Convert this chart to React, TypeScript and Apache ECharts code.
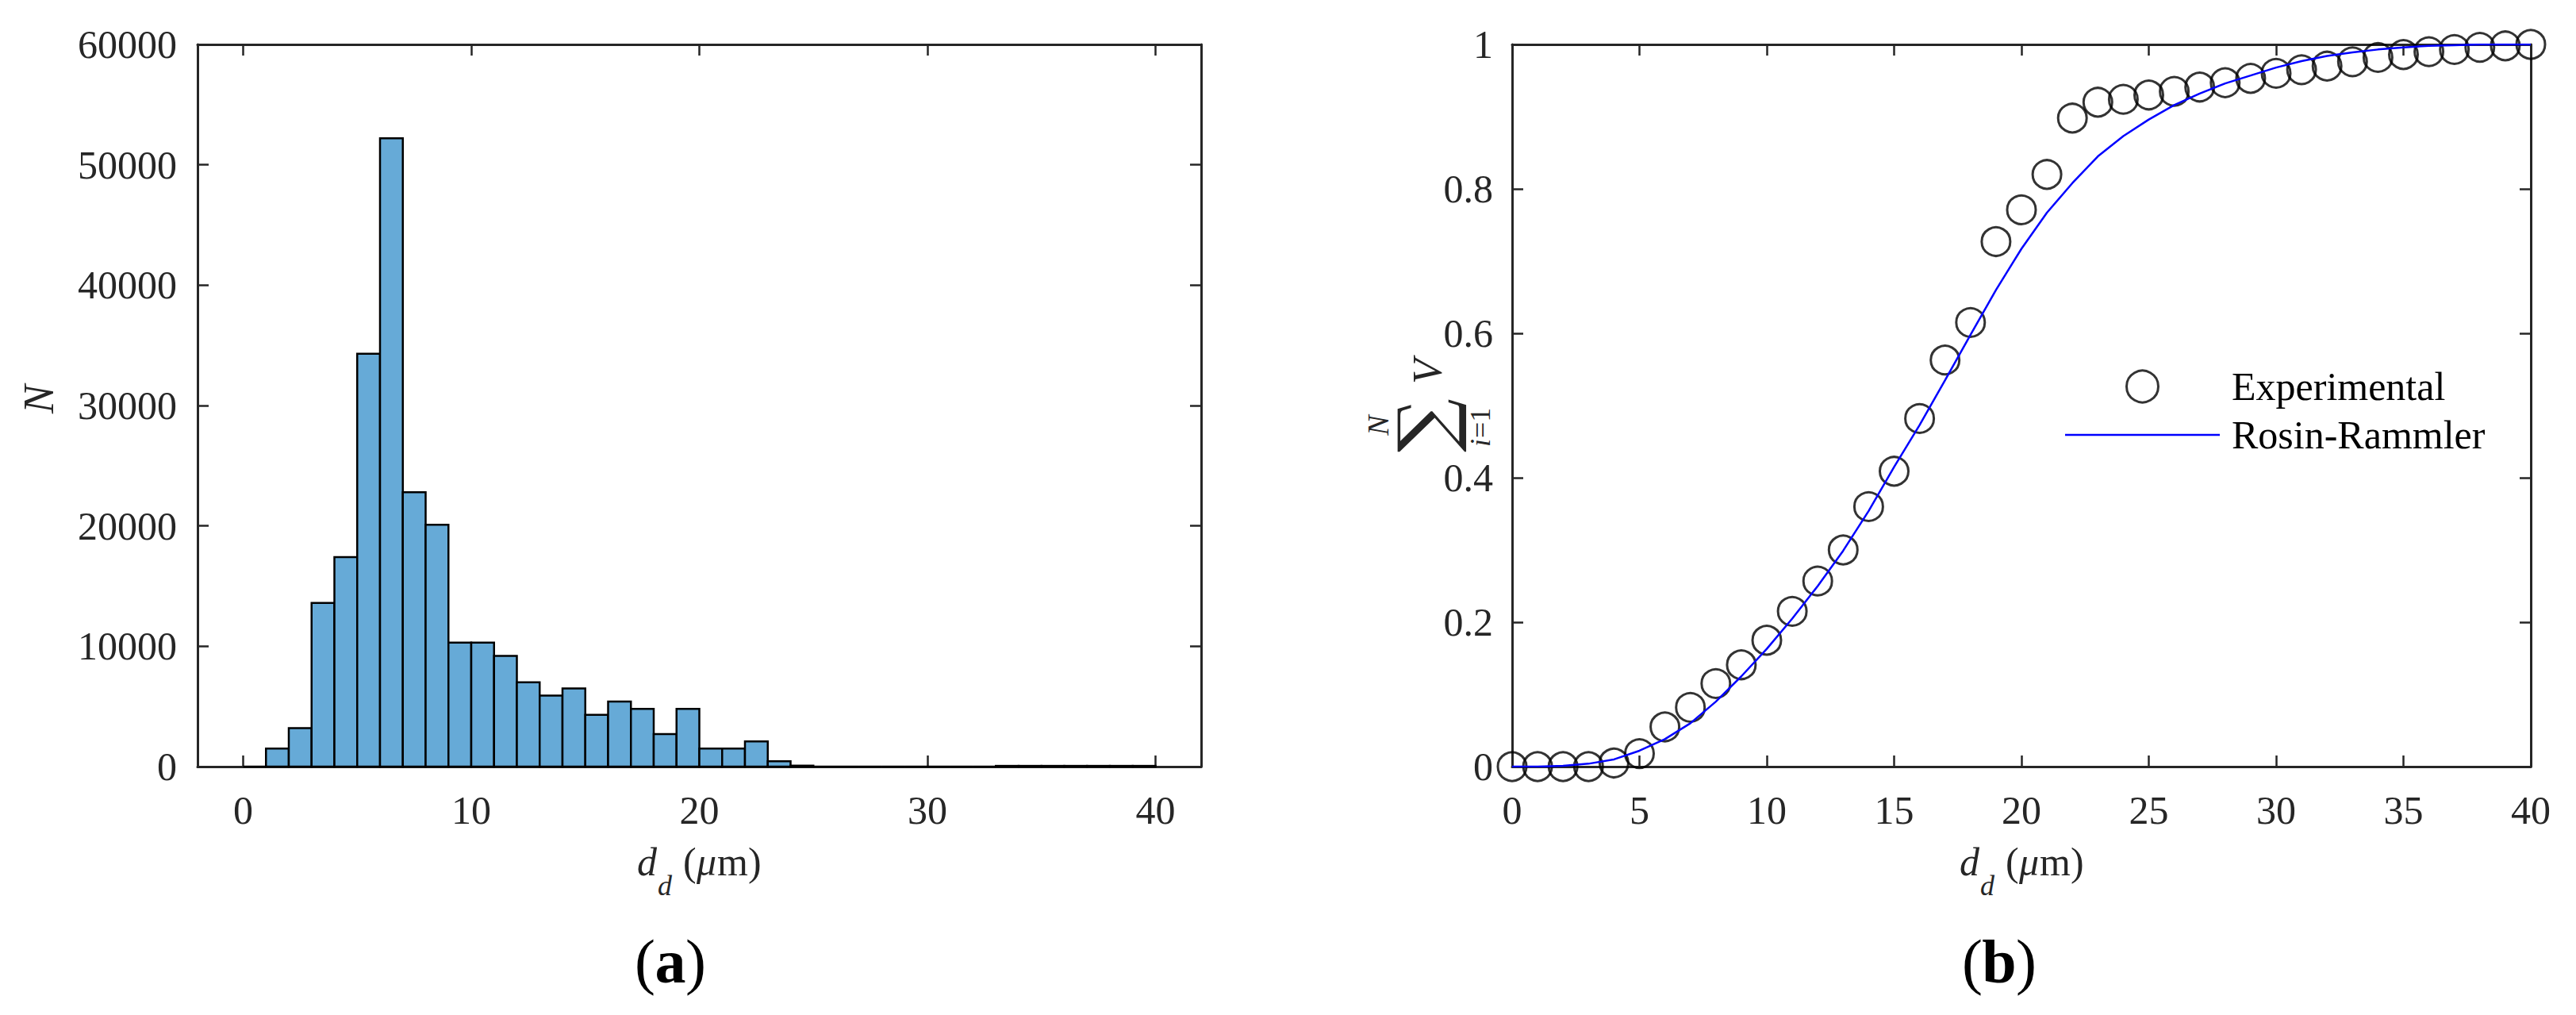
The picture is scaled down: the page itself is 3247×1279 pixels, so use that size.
import React, { useEffect, useRef } from 'react';
import * as echarts from 'echarts';

const FONT = "'Liberation Serif', 'Times New Roman', serif";
const AXIS_COLOR = '#262626';

// ---- Histogram (a) ----
const binEdges = [0, 1, 2, 3, 4, 5, 6, 7, 8, 9, 10, 11, 12, 13, 14, 15, 16, 17, 18, 19, 20,
  21, 22, 23, 24, 25, 26, 27, 28, 29, 30, 31, 32, 33, 34, 35, 36, 37, 38, 39, 40];
const binCounts = [
  0, 1500, 3200, 13600, 17400, 34300, 52200, 22800, 20100, 10300,
  10300, 9200, 7000, 5900, 6500, 4300, 5400, 4800, 2700, 4800,
  1500, 1500, 2100, 450, 80, 0, 0, 0, 0, 0,
  0, 0, 0, 60, 60, 60, 60, 60, 60, 60,
];
const histXTicks = [0, 10, 20, 30, 40];

// ---- Cumulative volume (b) ----
const dValues = [0, 1, 2, 3, 4, 5, 6, 7, 8, 9, 10, 11, 12, 13, 14, 15, 16, 17, 18, 19, 20,
  21, 22, 23, 24, 25, 26, 27, 28, 29, 30, 31, 32, 33, 34, 35, 36, 37, 38, 39, 40];
const experimental = [
  0, 0, 0, 0, 0.005, 0.018, 0.055, 0.082, 0.115, 0.141,
  0.175, 0.215, 0.257, 0.300, 0.360, 0.409, 0.482, 0.563, 0.615, 0.727,
  0.771, 0.820, 0.898, 0.920, 0.924, 0.930, 0.935, 0.941, 0.947, 0.953,
  0.960, 0.965, 0.970, 0.976, 0.982, 0.986, 0.990, 0.993, 0.996, 0.998, 1.0,
];
const rosinRammler = [
  0, 0.000, 0.001, 0.004, 0.010, 0.022, 0.038, 0.060, 0.090, 0.125,
  0.163, 0.205, 0.250, 0.299, 0.354, 0.415, 0.473, 0.535, 0.598, 0.660,
  0.717, 0.767, 0.808, 0.845, 0.873, 0.896, 0.916, 0.932, 0.946, 0.957,
  0.968, 0.977, 0.984, 0.989, 0.993, 0.996, 0.998, 0.999, 1.0, 1.0, 1.0,
];

const axisLine = { show: true, onZero: false, lineStyle: { color: AXIS_COLOR, width: 3 } };
const tickStyle = { color: AXIS_COLOR, width: 2.5 };
const labelStyle = { fontFamily: FONT, fontSize: 50, color: AXIS_COLOR, formatter: (v: number) => String(v) };

function txt(x: number, y: number, text: string, size: number, opts: any = {}) {
  const align = opts.align || 'left';
  return {
    type: 'text',
    x,
    y,
    silent: true,
    style: {
      text,
      fontFamily: opts.family || FONT,
      fontSize: size,
      fontStyle: opts.italic ? 'italic' : 'normal',
      fontWeight: opts.bold ? 'bold' : 'normal',
      fill: opts.color || '#000',
      textAlign: align,
      align,
      textVerticalAlign: 'middle',
      verticalAlign: 'middle',
    },
  };
}

function xTitle(x0: number) {
  // d_d (μm), baselines at 1103 (main) and 1128 (subscript)
  return [
    txt(x0, 1086, 'd', 50, { italic: true, color: AXIS_COLOR }),
    txt(x0 + 26, 1116, 'd', 36, { italic: true, color: AXIS_COLOR }),
    txt(x0 + 58, 1086, '(', 50, { color: AXIS_COLOR }),
    txt(x0 + 75, 1086, 'μ', 50, { italic: true, color: AXIS_COLOR }),
    txt(x0 + 101, 1086, 'm)', 50, { color: AXIS_COLOR }),
  ];
}

function caption(cx: number, letter: string) {
  const half = letter === 'a' ? 19 : 21;
  return [
    txt(cx - half, 1211, '(', 78, { align: 'right' }),
    txt(cx, 1211, letter, 78, { bold: true, align: 'center' }),
    txt(cx + half, 1211, ')', 78, { align: 'left' }),
  ];
}

const option: any = {
  animation: false,
  backgroundColor: '#ffffff',
  grid: [
    { left: 249, top: 56, width: 1265, height: 910 },
    { left: 1906, top: 56, width: 1284, height: 910 },
  ],
  xAxis: [
    {
      gridIndex: 0, type: 'value', position: 'bottom', min: -2, max: 42,
      axisLine,
      axisTick: { show: true, inside: true, length: 14, lineStyle: tickStyle, customValues: histXTicks },
      axisLabel: { ...labelStyle, margin: 30, customValues: histXTicks },
      splitLine: { show: false },
    },
    {
      gridIndex: 0, type: 'value', position: 'top', min: -2, max: 42,
      axisLine,
      axisTick: { show: true, inside: true, length: 14, lineStyle: tickStyle, customValues: histXTicks },
      axisLabel: { show: false, customValues: histXTicks },
      splitLine: { show: false },
    },
    {
      gridIndex: 1, type: 'value', position: 'bottom', min: 0, max: 40, interval: 5,
      axisLine,
      axisTick: { show: true, inside: true, length: 14, lineStyle: tickStyle },
      axisLabel: { ...labelStyle, margin: 30 },
      splitLine: { show: false },
    },
    {
      gridIndex: 1, type: 'value', position: 'top', min: 0, max: 40, interval: 5,
      axisLine,
      axisTick: { show: true, inside: true, length: 14, lineStyle: tickStyle },
      axisLabel: { show: false },
      splitLine: { show: false },
    },
  ],
  yAxis: [
    {
      gridIndex: 0, type: 'value', position: 'left', min: 0, max: 60000, interval: 10000,
      axisLine,
      axisTick: { show: true, inside: true, length: 14, lineStyle: tickStyle },
      axisLabel: { ...labelStyle, margin: 26 },
      splitLine: { show: false },
    },
    {
      gridIndex: 0, type: 'value', position: 'right', min: 0, max: 60000, interval: 10000,
      axisLine,
      axisTick: { show: true, inside: true, length: 14, lineStyle: tickStyle },
      axisLabel: { show: false },
      splitLine: { show: false },
    },
    {
      gridIndex: 1, type: 'value', position: 'left', min: 0, max: 1, interval: 0.2,
      axisLine,
      axisTick: { show: true, inside: true, length: 14, lineStyle: tickStyle },
      axisLabel: { ...labelStyle, margin: 24 },
      splitLine: { show: false },
    },
    {
      gridIndex: 1, type: 'value', position: 'right', min: 0, max: 1, interval: 0.2,
      axisLine,
      axisTick: { show: true, inside: true, length: 14, lineStyle: tickStyle },
      axisLabel: { show: false },
      splitLine: { show: false },
    },
  ],
  legend: {
    orient: 'vertical',
    left: 2598,
    top: 457,
    itemWidth: 195,
    itemHeight: 40,
    itemGap: 11,
    selectedMode: false,
    symbolKeepAspect: true,
    textStyle: { fontFamily: FONT, fontSize: 50, color: '#000', padding: [0, 0, 0, 10] },
    data: [
      {
        name: 'Experimental',
        icon: 'circle',
        itemStyle: { color: 'rgba(0,0,0,0)', borderColor: '#000', borderWidth: 3 },
      },
      {
        name: 'Rosin-Rammler',
        icon: 'path://M0,0L195,0L195,2.5L0,2.5Z',
        itemStyle: { color: '#0000FF', borderWidth: 0 },
      },
    ],
  },
  series: [
    {
      type: 'custom',
      name: 'Histogram',
      xAxisIndex: 0,
      yAxisIndex: 0,
      encode: { x: [0, 1], y: 2 },
      data: binCounts.map((c, i) => [binEdges[i], binEdges[i + 1], c]),
      renderItem: (params: any, api: any) => {
        const x0 = api.value(0);
        const x1 = api.value(1);
        const y = api.value(2);
        const pTop = api.coord([x0, y]);
        const pBot = api.coord([x1, 0]);
        return {
          type: 'rect',
          shape: { x: pTop[0], y: pTop[1], width: pBot[0] - pTop[0], height: pBot[1] - pTop[1] },
          style: { fill: '#66AAD7', stroke: '#000', lineWidth: 2.5 },
        };
      },
    },
    {
      type: 'scatter',
      name: 'Experimental',
      xAxisIndex: 2,
      yAxisIndex: 2,
      symbol: 'circle',
      symbolSize: 36,
      clip: false,
      itemStyle: { color: 'rgba(0,0,0,0)', borderColor: '#000', borderWidth: 3 },
      data: dValues.map((d, i) => [d, experimental[i]]),
    },
    {
      type: 'line',
      name: 'Rosin-Rammler',
      xAxisIndex: 2,
      yAxisIndex: 2,
      symbol: 'none',
      smooth: false,
      lineStyle: { color: '#0000FF', width: 2.5 },
      itemStyle: { color: '#0000FF' },
      data: dValues.map((d, i) => [d, rosinRammler[i]]),
    },
  ],
  graphic: [
    // y label (a): N rotated
    {
      type: 'group',
      x: 67,
      y: 519,
      rotation: Math.PI / 2,
      children: [txt(-2, -18, 'N', 54, { italic: true, color: AXIS_COLOR })],
    },
    // y label (b): sum_{i=1}^{N} V rotated
    {
      type: 'group',
      x: 1817,
      y: 570,
      rotation: Math.PI / 2,
      children: [
        txt(34, -20, '∑', 95, { align: 'center', color: AXIS_COLOR, family: "'DejaVu Serif', serif" }),
        txt(34, -80, 'N', 38, { italic: true, align: 'center', color: AXIS_COLOR }),
        txt(7, 49, 'i', 36, { italic: true, color: AXIS_COLOR }),
        txt(18, 49, '=1', 36, { color: AXIS_COLOR }),
        txt(86, -18, 'V', 52, { italic: true, color: AXIS_COLOR }),
      ],
    },
    ...xTitle(803),
    ...xTitle(2470),
    ...caption(845, 'a'),
    ...caption(2520, 'b'),
  ],
};

export default function App() {
  const ref = useRef<HTMLDivElement>(null);
  useEffect(() => {
    const chart = echarts.init(ref.current!, null, { renderer: 'svg' });
    chart.setOption(option);
    return () => chart.dispose();
  }, []);
  return (
    <div
      ref={ref}
      style={{ position: 'fixed', left: 0, top: 0, width: 3247, height: 1279, background: '#fff' }}
    />
  );
}
